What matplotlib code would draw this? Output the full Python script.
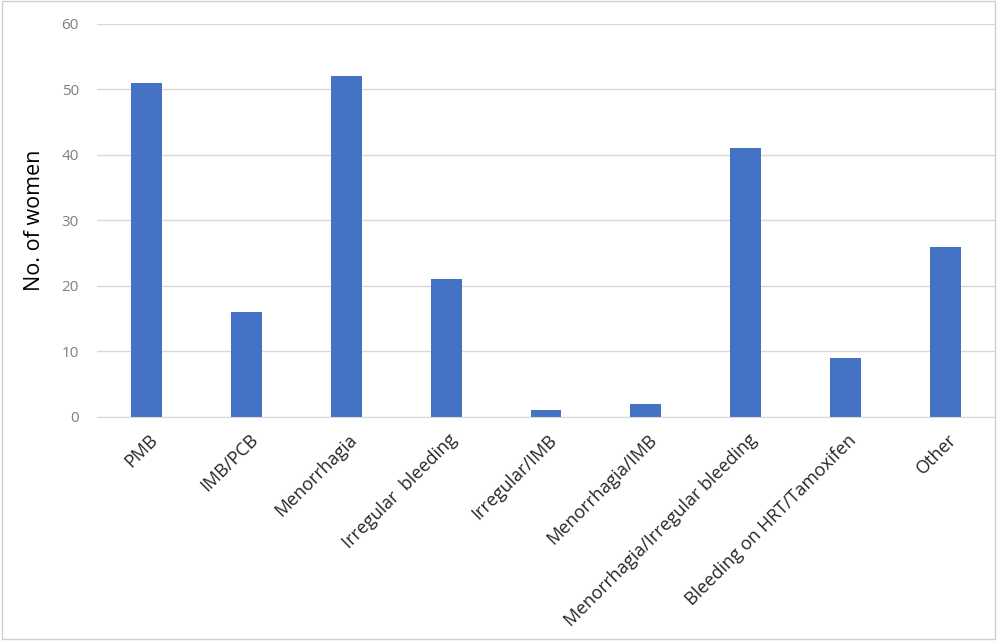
import matplotlib
matplotlib.use("Agg")
import matplotlib.pyplot as plt
from matplotlib.patches import Rectangle
from matplotlib.transforms import ScaledTranslation

# data
categories = ["PMB", "IMB/PCB", "Menorrhagia", "Irregular  bleeding", "Irregular/IMB",
              "Menorrhagia/IMB", "Menorrhagia/Irregular bleeding",
              "Bleeding on HRT/Tamoxifen", "Other"]
women = [51, 16, 52, 21, 1, 2, 41, 9, 26]
y_ticks = [0, 10, 20, 30, 40, 50, 60]

plt.rcParams["font.family"] = ["Open Sans", "DejaVu Sans"]

fig = plt.figure(figsize=(10, 6.41), dpi=100)
ax = fig.add_axes([0.097, 0.3495, 0.898, 0.6131])

x = range(len(categories))
ax.bar(x, women, width=0.31, color="#4472C4", zorder=3)

ax.set_xlim(-0.5, len(categories) - 0.5)
ax.set_ylim(0, 60)
ax.set_yticks(y_ticks)
ax.yaxis.grid(True, color="#d9d9d9", linewidth=1, zorder=0)

for s in ["top", "right", "left"]:
    ax.spines[s].set_visible(False)
ax.spines["bottom"].set_color("#d9d9d9")
ax.spines["bottom"].set_zorder(4)

ax.tick_params(axis="both", length=0)
ax.tick_params(axis="y", labelsize=11, labelcolor="#7f7f7f", pad=13)
ax.set_xticks(list(x))
labels = ax.set_xticklabels(categories, rotation=45, ha="right", rotation_mode="anchor",
                            fontsize=13, color="#262626")
ax.tick_params(axis="x", pad=10)
# labels sit a little right of the tick in the original
for lab in labels:
    lab.set_transform(lab.get_transform() + ScaledTranslation(2 / 100, 0, fig.dpi_scale_trans))

ax.set_ylabel("No. of women", fontsize=15.5, color="black", labelpad=12)

# light frame around the picture
fig.patches.append(Rectangle((0.002, 0.003), 0.993, 0.995, transform=fig.transFigure,
                             fill=False, edgecolor="#d0d0d0", linewidth=1))

fig.savefig("out.png", dpi=100)
